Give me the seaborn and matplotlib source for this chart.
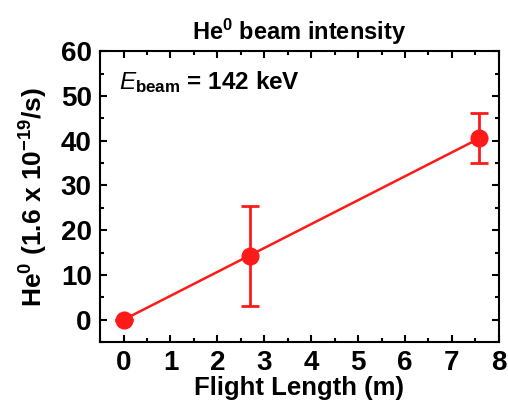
import numpy as np
import pandas as pd
import matplotlib
matplotlib.use('Agg')
import matplotlib.pyplot as plt
import seaborn as sns
from matplotlib.ticker import MultipleLocator

# DATA
flight_length = [0.0, 2.69, 7.58]
intensity = [0.0, 14.3, 40.5]
err_low = [0.0, 11.2, 5.4]
err_high = [0.0, 11.2, 5.6]
fit_x = [0.0, 7.58]
fit_y = [0.0, 40.5]

sns.set_style('ticks')
plt.rcParams['font.family'] = ['Liberation Sans', 'DejaVu Sans']
plt.rcParams['mathtext.fontset'] = 'custom'
plt.rcParams['mathtext.rm'] = 'Liberation Sans'
plt.rcParams['mathtext.it'] = 'Liberation Sans:italic'
plt.rcParams['mathtext.bf'] = 'Liberation Sans:bold'
for key in ['text.color', 'axes.labelcolor', 'xtick.color', 'ytick.color',
            'axes.edgecolor']:
    plt.rcParams[key] = 'black'

red = '#FF1A1A'
df = pd.DataFrame({'x': flight_length, 'y': intensity})
fit = pd.DataFrame({'x': fit_x, 'y': fit_y})

fig = plt.figure(figsize=(5.08, 4.03), dpi=100)
ax = fig.add_axes([0.197, 0.151, 0.785, 0.722])

sns.lineplot(data=fit, x='x', y='y', color=red, lw=1.8, ax=ax)
ax.errorbar(flight_length, intensity, yerr=[err_low, err_high], fmt='none',
            ecolor=red, elinewidth=2, capsize=6.5, capthick=2, zorder=3)
sns.scatterplot(data=df, x='x', y='y', color=red, s=170, edgecolor=red,
                linewidth=0, ax=ax, zorder=4)

ax.set_xlim(-0.5, 8)
ax.set_ylim(-5, 60)
ax.xaxis.set_major_locator(MultipleLocator(1))
ax.xaxis.set_minor_locator(MultipleLocator(0.5))
ax.yaxis.set_major_locator(MultipleLocator(10))
ax.yaxis.set_minor_locator(MultipleLocator(5))
ax.tick_params(which='both', direction='in', top=True, right=True, width=1.5)
ax.tick_params(which='major', length=5, labelsize=20, pad=6)
ax.tick_params(which='minor', length=3)
for lbl in ax.get_xticklabels() + ax.get_yticklabels():
    lbl.set_fontweight('bold')
for s in ax.spines.values():
    s.set_linewidth(1.5)
    s.set_visible(True)

ax.set_xlabel('Flight Length (m)', fontsize=18.5, fontweight='bold', labelpad=0)
ax.set_ylabel(r'He$^{\mathdefault{0}}$ (1.6 x 10$^{\mathdefault{-19}}$/s)',
              fontsize=19, fontweight='bold', labelpad=8)
ax.set_title(r'He$^{\mathdefault{0}}$ beam intensity', fontsize=17,
             fontweight='bold', pad=8)
ax.text(-0.1, 53, r'$\mathit{E}_{\mathdefault{beam}}$ = 142 keV', fontsize=17.5,
        fontweight='bold', va='center', ha='left')

fig.savefig('out.png', dpi=100)
